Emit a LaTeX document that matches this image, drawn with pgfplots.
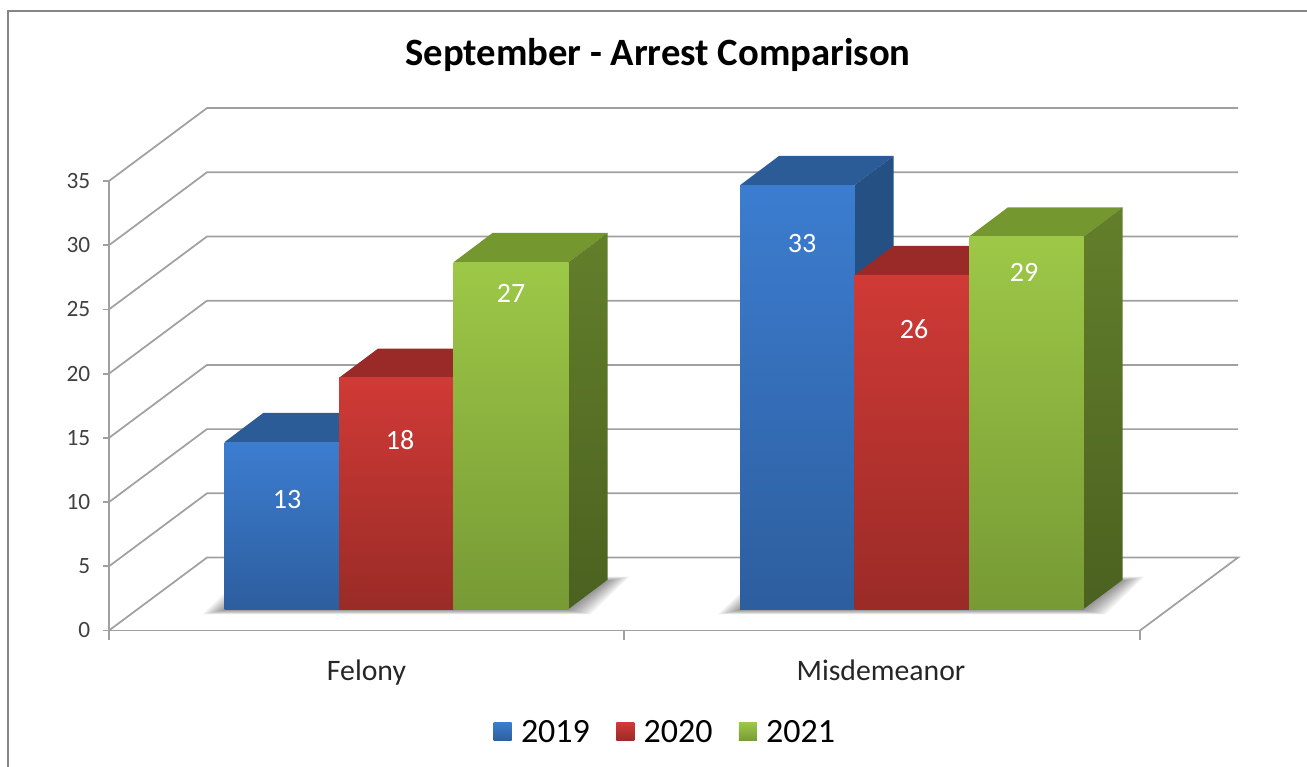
\documentclass[border=0pt]{standalone}
\usepackage{pgfplots}
\pgfplotsset{compat=1.18}
\usepackage{fontspec}
\setmainfont{Carlito}
\definecolor{bluetop}{HTML}{3C7DD0}\definecolor{bluebot}{HTML}{2D5E9E}
\definecolor{bluecap}{HTML}{2B5C98}\definecolor{blueside}{HTML}{245083}
\definecolor{redtop}{HTML}{D03A36}\definecolor{redbot}{HTML}{9A2B27}
\definecolor{redcap}{HTML}{9A2A28}\definecolor{redside}{HTML}{7E2321}
\definecolor{greentop}{HTML}{9DC847}\definecolor{greenbot}{HTML}{779A35}
\definecolor{greencap}{HTML}{74972F}\definecolor{greensidet}{HTML}{637F2B}\definecolor{greensideb}{HTML}{4B6120}
\definecolor{ln}{HTML}{A0A0A0}
\newcommand{\shadowlayer}[3]{\fill[black,opacity=0.042] ({#1-#3},{610+#3*0.2}) -- ({#2+#3},{610+#3*0.2}) -- ({#2+39+#3},{581-#3*0.2}) -- ({#1+39-#3},{581-#3*0.2}) -- cycle;}
\begin{document}
\begin{tikzpicture}
\useasboundingbox (0,0) rectangle (980.25pt,575.25pt);
\begin{scope}[x=.75pt,y=-.75pt,yshift=575.25pt]
\draw[color=gray!95,line width=1.5pt] (8,767) -- (8,11) -- (1307,11);
\foreach \e in {22,20,18,16,14,12,10,8,6,4,2,0}{\shadowlayer{224.5}{568.5}{\e}\shadowlayer{740}{1083.5}{\e}}
\end{scope}
\begin{axis}[
  at={(81.75pt,102.375pt)},anchor=south west,
  scale only axis,width=773.25pt,height=337.125pt,
  xmin=109,xmax=1140,ymin=0,ymax=35,clip=false,
  axis x line*=bottom,axis y line*=left,
  axis line style={draw=ln,line width=1.3pt,-},
  tick align=outside,
  ytick={0,5,...,35},
  xtick={366.5,881},xticklabels={Felony,Misdemeanor},
  x tick style={draw=none},
  y tick style={draw=ln,line width=1.3pt},
  major tick length=4.5pt,
  /pgf/number format/assume math mode=true,
  yticklabel style={font=\fontsize{17.5}{20}\selectfont,color=black!75,xshift=-6pt},
  xticklabel style={font=\fontsize{22.3}{26}\selectfont,color=black!85,yshift=-13.7pt},
  title={\fontsize{29}{34}\selectfont\bfseries September - Arrest Comparison},
  title style={at={(0.5325,1.263)},anchor=center},
  legend style={at={(0.54,-0.226)},anchor=center,draw=none,fill=none,
    legend columns=3,font=\fontsize{25.5}{30}\selectfont,
    /tikz/every odd column/.append style={column sep=5pt},
    /tikz/every even column/.append style={column sep=17.75pt}},
]
% x-axis ticks between the categories
\addplot[forget plot,ln,line width=1.3pt] coordinates {(109,0)(109,-0.75)};
\addplot[forget plot,ln,line width=1.3pt] coordinates {(624,0)(624,-0.75)};
\addplot[forget plot,ln,line width=1.3pt] coordinates {(1140,0)(1140,-0.75)};
% walls and floor
\addplot[forget plot,ln,line width=1.3pt] coordinates {(109,0)(207,5.68)(1238,5.68)(1140,0)};
\addplot[forget plot,ln,line width=1.3pt] coordinates {(109,5)(207,10.68)(1238,10.68)};
\addplot[forget plot,ln,line width=1.3pt] coordinates {(109,10)(207,15.68)(1238,15.68)};
\addplot[forget plot,ln,line width=1.3pt] coordinates {(109,15)(207,20.68)(1238,20.68)};
\addplot[forget plot,ln,line width=1.3pt] coordinates {(109,20)(207,25.68)(1238,25.68)};
\addplot[forget plot,ln,line width=1.3pt] coordinates {(109,25)(207,30.68)(1238,30.68)};
\addplot[forget plot,ln,line width=1.3pt] coordinates {(109,30)(207,35.68)(1238,35.68)};
\addplot[forget plot,ln,line width=1.3pt] coordinates {(109,35)(207,40.68)(1238,40.68)};
% Felony
\addplot[forget plot,draw=none,fill=bluecap,yshift=16.1pt] coordinates {(224.5,13)(339,13)(378,15.28)(263.5,15.28)};
\addplot[draw=none,top color=bluetop,bottom color=bluebot,yshift=16.1pt,area legend,
  legend image code/.code={\path[top color=bluetop,bottom color=bluebot] (0pt,-22.75pt) rectangle (13.5pt,-8.75pt);}]
  coordinates {(224.5,0)(339,0)(339,13)(224.5,13)};
\addplot[forget plot,draw=none,fill=redcap,yshift=16.1pt] coordinates {(339,18)(453.5,18)(492.5,20.28)(378,20.28)};
\addplot[draw=none,top color=redtop,bottom color=redbot,yshift=16.1pt,area legend,
  legend image code/.code={\path[top color=redtop,bottom color=redbot] (0pt,-22.75pt) rectangle (13.5pt,-8.75pt);}]
  coordinates {(339,0)(453.5,0)(453.5,18)(339,18)};
\addplot[forget plot,draw=none,fill=greencap,yshift=16.1pt] coordinates {(453.5,27)(568.5,27)(607.5,29.28)(492.5,29.28)};
\addplot[forget plot,draw=none,top color=greensidet,bottom color=greensideb,yshift=16.1pt] coordinates {(568.5,0)(607.5,2.28)(607.5,29.28)(568.5,27)};
\addplot[draw=none,top color=greentop,bottom color=greenbot,yshift=16.1pt,area legend,
  legend image code/.code={\path[top color=greentop,bottom color=greenbot] (0pt,-22.75pt) rectangle (13.5pt,-8.75pt);}]
  coordinates {(453.5,0)(568.5,0)(568.5,27)(453.5,27)};
% Misdemeanor
\addplot[forget plot,draw=none,fill=bluecap,yshift=16.1pt] coordinates {(740,33)(854.5,33)(893.5,35.28)(779,35.28)};
\addplot[forget plot,draw=none,fill=blueside,yshift=16.1pt] coordinates {(854.5,0)(893.5,2.28)(893.5,35.28)(854.5,33)};
\addplot[forget plot,draw=none,top color=bluetop,bottom color=bluebot,yshift=16.1pt] coordinates {(740,0)(854.5,0)(854.5,33)(740,33)};
\addplot[forget plot,draw=none,fill=redcap,yshift=16.1pt] coordinates {(854.5,26)(969,26)(1008,28.28)(893.5,28.28)};
\addplot[forget plot,draw=none,top color=redtop,bottom color=redbot,yshift=16.1pt] coordinates {(854.5,0)(969,0)(969,26)(854.5,26)};
\addplot[forget plot,draw=none,fill=greencap,yshift=16.1pt] coordinates {(969,29)(1083.5,29)(1122.5,31.28)(1008,31.28)};
\addplot[forget plot,draw=none,top color=greensidet,bottom color=greensideb,yshift=16.1pt] coordinates {(1083.5,0)(1122.5,2.28)(1122.5,31.28)(1083.5,29)};
\addplot[forget plot,draw=none,top color=greentop,bottom color=greenbot,yshift=16.1pt] coordinates {(969,0)(1083.5,0)(1083.5,29)(969,29)};
\legend{2019,2020,2021}
% data labels
\begin{scope}[every node/.style={text=white,font=\fontsize{21}{24}\selectfont}]
\node at (axis cs:287,10.2) {13};
\node at (axis cs:400,14.8) {18};
\node at (axis cs:511,26.28) {27};
\node at (axis cs:802,30.1) {33};
\node at (axis cs:914,23.45) {26};
\node at (axis cs:1024,27.85) {29};
\end{scope}
\end{axis}
\end{tikzpicture}
\end{document}
